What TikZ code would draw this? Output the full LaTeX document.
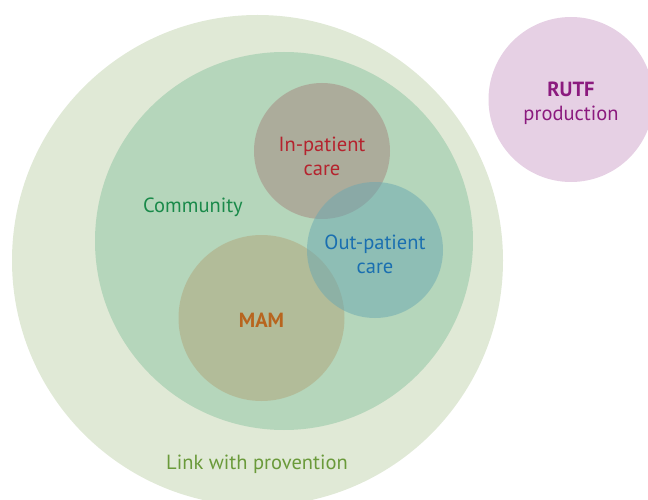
\documentclass[tikz,border=0pt]{standalone}
\usepackage{fontspec}
\setmainfont{PT Sans}
\definecolor{outerc}{HTML}{E0E9D6}
\definecolor{commc}{HTML}{B5D6BB}
\definecolor{inc}{RGB}{165,132,125}
\definecolor{outc}{RGB}{105,168,177}
\definecolor{mamc}{RGB}{177,164,121}
\definecolor{rutfc}{HTML}{E6D0E4}
\definecolor{rutft}{HTML}{8B1A7E}
\definecolor{int}{HTML}{B5232E}
\definecolor{outt}{HTML}{1A6FB0}
\definecolor{commt}{HTML}{1A8A4A}
\definecolor{mamt}{HTML}{B8651E}
\definecolor{linkt}{HTML}{6A9A3A}
\tikzset{
  x=1pt,y=-1pt,
  disc/.style={circle,inner sep=0pt,draw=none},
  lbl/.style={align=center,font=\fontsize{20.5}{24}\selectfont,inner sep=0pt}
}
\begin{document}
\begin{tikzpicture}
\useasboundingbox (0,0) rectangle (648,500);
\clip (0,0) rectangle (648,500);
\node[disc,fill=outerc,minimum size=491pt] (outer) at (257.5,260.5) {};
\node[disc,fill=commc,minimum size=378pt] (comm) at (284,241) {};
\node[disc,fill=mamc,fill opacity=0.5,minimum size=166pt] (mam) at (261.5,318) {};
\node[disc,fill=inc,fill opacity=0.5,minimum size=136pt] (inp) at (322,151) {};
\node[disc,fill=outc,fill opacity=0.5,minimum size=136pt] (outp) at (375,250) {};
\node[disc,fill=rutfc,minimum size=165pt] (rutf) at (571,99.5) {};
\node[lbl,text=rutft] (rutfl) at (571,103) {\textbf{RUTF}\\production};
\node[lbl,text=int] (inl) at (322,156) {In-patient\\care};
\node[lbl,text=outt] (outl) at (375,254) {Out-patient\\care};
\node[lbl,text=commt] (comml) at (193,207.5) {Community};
\node[lbl,text=mamt,font=\fontsize{20.5}{24}\selectfont\bfseries] (maml) at (261.5,320.5) {MAM};
\node[lbl,text=linkt] (linkl) at (257,464.5) {Link with provention};
\end{tikzpicture}
\end{document}
